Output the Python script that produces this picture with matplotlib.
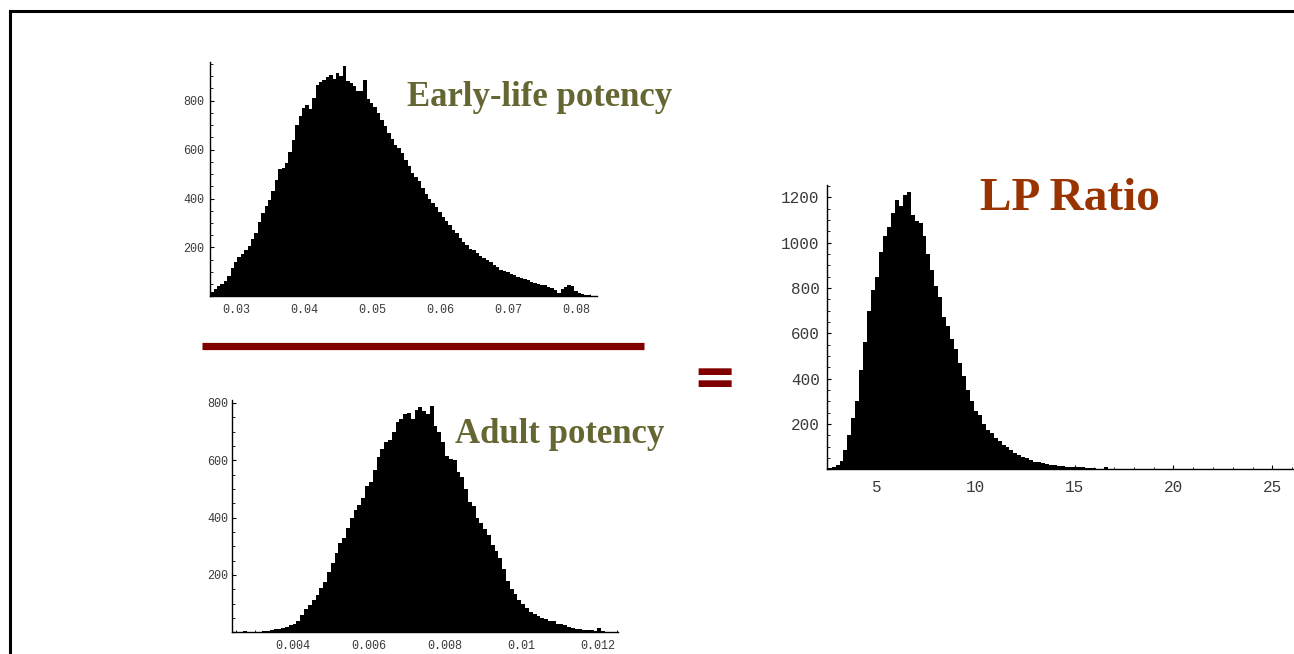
import numpy as np
import matplotlib.pyplot as plt
from matplotlib.lines import Line2D
from matplotlib.ticker import MultipleLocator, FixedLocator, FuncFormatter

# Early-life potency histogram (bin start, bin width, counts)
early_start = 0.0262
early_width = 0.0005
early_counts = [18, 30, 42, 50, 62, 82, 118, 140, 160, 172,
                188, 205, 235, 258, 305, 340, 368, 392, 430, 475,
                520, 525, 545, 590, 638, 700, 738, 772, 782, 765,
                810, 865, 875, 885, 898, 905, 890, 912, 900, 940,
                882, 872, 858, 840, 838, 885, 805, 790, 775, 748,
                722, 695, 668, 645, 620, 606, 588, 556, 532, 504,
                490, 470, 445, 420, 400, 382, 365, 345, 325, 310,
                290, 272, 258, 238, 222, 212, 195, 190, 178, 165,
                155, 148, 140, 130, 122, 108, 103, 98, 92, 88,
                80, 75, 70, 66, 60, 55, 52, 48, 47, 38,
                34, 28, 14, 30, 40, 47, 42, 22, 12, 8,
                5, 4, 3, 2]

# Adult potency histogram
adult_start = 0.0025
adult_width = 0.0001
adult_counts = [1, 1, 5, 1, 0, 1, 2, 5, 6, 7,
                10, 12, 15, 17, 26, 30, 40, 60, 82, 95,
                112, 130, 155, 175, 210, 240, 275, 310, 330, 365,
                400, 425, 445, 470, 510, 525, 565, 610, 640, 665,
                670, 700, 735, 745, 760, 765, 745, 775, 785, 770,
                760, 790, 720, 700, 665, 615, 605, 600, 560, 540,
                500, 455, 440, 400, 380, 360, 340, 305, 285, 260,
                220, 180, 150, 132, 112, 98, 85, 72, 64, 56,
                50, 46, 40, 38, 30, 28, 25, 18, 16, 12,
                10, 9, 7, 7, 6, 14, 3, 2, 2, 1]

# LP ratio histogram
ratio_start = 2.5
ratio_width = 0.2
ratio_counts = [5, 12, 19, 35, 85, 150, 225, 300, 440, 560,
                700, 790, 850, 960, 1030, 1070, 1130, 1190, 1160, 1210,
                1225, 1120, 1095, 1085, 1030, 950, 880, 810, 760, 670,
                630, 575, 530, 470, 410, 350, 300, 255, 240, 200,
                175, 158, 140, 125, 108, 98, 85, 72, 63, 55,
                48, 42, 34, 30, 26, 22, 20, 18, 15, 14,
                12, 11, 9, 8, 8, 7, 6, 5, 3, 3,
                11, 2, 1]

early_xticks = [0.03, 0.04, 0.05, 0.06, 0.07, 0.08]
adult_xticks = [0.004, 0.006, 0.008, 0.01, 0.012]
ratio_xticks = [5, 10, 15, 20, 25]

W, H = 1294, 654
fig = plt.figure(figsize=(W / 100, H / 100), dpi=100)
fig.patch.set_facecolor('white')


def px_axes(left, right, top, bottom):
    return fig.add_axes([left / W, 1 - bottom / H, (right - left) / W, (bottom - top) / H])


def style(ax, xticks, xminor, ymajor, yminor, fs, xpad, ypad, xfmt):
    for s in ['top', 'right']:
        ax.spines[s].set_visible(False)
    ax.spines['left'].set_linewidth(1.0)
    ax.spines['bottom'].set_linewidth(1.0)
    ax.xaxis.set_major_locator(FixedLocator(xticks))
    ax.xaxis.set_minor_locator(MultipleLocator(xminor))
    ax.yaxis.set_major_locator(MultipleLocator(ymajor))
    ax.yaxis.set_minor_locator(MultipleLocator(yminor))
    ax.xaxis.set_major_formatter(FuncFormatter(xfmt))
    ax.yaxis.set_major_formatter(FuncFormatter(lambda v, p: '' if v == 0 else '%d' % v))
    ax.tick_params(which='major', direction='in', length=3.2, width=0.8, colors='black')
    ax.tick_params(which='minor', direction='in', length=1.8, width=0.6, colors='black')
    ax.tick_params(axis='x', which='major', labelsize=fs, pad=xpad, labelcolor='#3a3a3a')
    ax.tick_params(axis='y', which='major', labelsize=fs, pad=ypad, labelcolor='#3a3a3a')
    for lab in ax.get_xticklabels() + ax.get_yticklabels():
        lab.set_family('Liberation Mono')


def hist(ax, start, width, counts):
    edges = start + width * np.arange(len(counts) + 1)
    ax.stairs(counts, edges, fill=True, color='black', linewidth=0)


# top: early-life potency
ax1 = px_axes(210, 597, 62, 296.4)
hist(ax1, early_start, early_width, early_counts)
ax1.set_xlim(0.02618, 0.08304)
ax1.set_ylim(0, 958)
style(ax1, early_xticks, 0.002, 200, 50, 8.5, 5.5, 4, lambda v, p: '%.2f' % v)

# bottom: adult potency
ax2 = px_axes(232.3, 618.3, 400, 632.3)
hist(ax2, adult_start, adult_width, adult_counts)
ax2.set_xlim(0.002415, 0.012546)
ax2.set_ylim(0, 810)
style(ax2, adult_xticks, 0.0005, 200, 50, 8.5, 5.5, 3,
      lambda v, p: ('%.3f' % v).rstrip('0') if abs(v - 0.01) < 1e-9 else '%.3f' % v)

# right: LP ratio
ax3 = px_axes(826.7, 1294, 185, 469.3)
hist(ax3, ratio_start, ratio_width, ratio_counts)
ax3.set_xlim(2.45, 26.1)
ax3.set_ylim(0, 1254)
style(ax3, ratio_xticks, 1, 200, 50, 11.5, 7.5, 5, lambda v, p: '%d' % v)

# titles
fig.text(539.5 / W, 1 - 106 / H, 'Early-life potency', ha='center', va='baseline',
         family='Liberation Serif', weight='bold', fontsize=25, color='#666633')
fig.text(560 / W, 1 - 443 / H, 'Adult potency', ha='center', va='baseline',
         family='Liberation Serif', weight='bold', fontsize=25, color='#666633')
fig.text(1069.5 / W, 1 - 210 / H, 'LP Ratio', ha='center', va='baseline',
         family='Liberation Serif', weight='bold', fontsize=34, color='#993300')

# division bar and equals sign
fig.add_artist(Line2D([202 / W, 644 / W], [1 - 346 / H] * 2, color='#800000', lw=5.2,
                      solid_capstyle='butt'))
fig.text(715 / W, 1 - 380 / H, '=', ha='center', va='center', family='DejaVu Sans',
         weight='bold', fontsize=38, color='#800000')

# slide frame
fig.add_artist(Line2D([10 / W, 1], [1 - 11 / H] * 2, color='black', lw=2.2))
fig.add_artist(Line2D([10 / W, 10 / W], [0, 1 - 11 / H], color='black', lw=2.2))

fig.savefig('out.png', dpi=100)
